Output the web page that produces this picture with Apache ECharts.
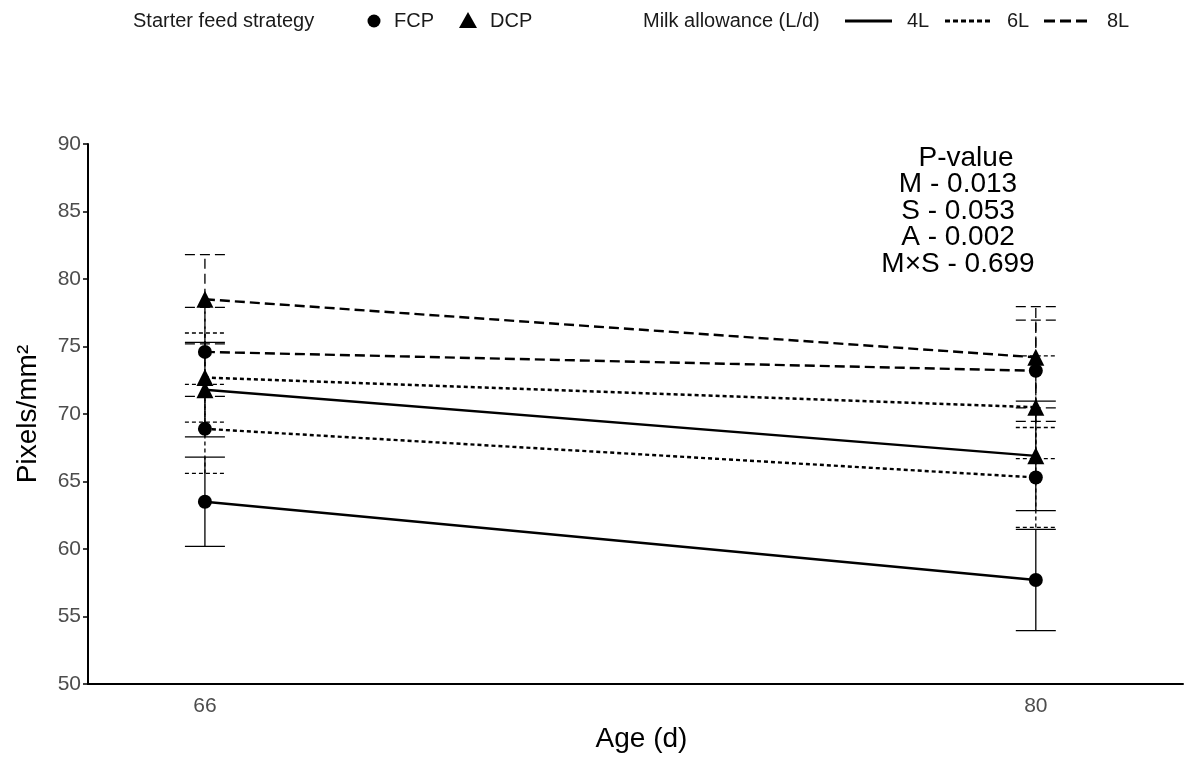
<!DOCTYPE html>
<html>
<head>
<meta charset="utf-8">
<script src="https://cdn.jsdelivr.net/npm/echarts@6/dist/echarts.min.js"></script>
<style>
html,body{margin:0;padding:0;background:#fff;}
#chart{width:1199px;height:760px;}
</style>
</head>
<body>
<div id="chart"></div>
<script>
// ---- data ----
const ages = [66, 80];
const fcp4 = [63.5, 57.7];
const fcp4Se = [3.3, 3.75];
const dcp4 = [71.8, 66.9];
const dcp4Se = [3.5, 4.05];
const fcp6 = [68.9, 65.3];
const fcp6Se = [3.3, 3.7];
const dcp6 = [72.7, 70.5];
const dcp6Se = [3.3, 3.8];
const fcp8 = [74.6, 73.2];
const fcp8Se = [3.3, 3.75];
const dcp8 = [78.5, 74.2];
const dcp8Se = [3.3, 3.75];
const yTicks = [50, 55, 60, 65, 70, 75, 80, 85, 90];
const pTitle = 'P-value';
const pLines = ['M - 0.013', 'S - 0.053', 'A - 0.002', 'M×S - 0.699'];

const FONT = '"Liberation Sans", Arial, sans-serif';
const dashes = { '4L': null, '6L': [4, 3], '8L': [10, 5] };

const groups = [
  { name: 'FCP 4L', strat: 'FCP', milk: '4L', mean: fcp4, se: fcp4Se },
  { name: 'DCP 4L', strat: 'DCP', milk: '4L', mean: dcp4, se: dcp4Se },
  { name: 'FCP 6L', strat: 'FCP', milk: '6L', mean: fcp6, se: fcp6Se },
  { name: 'DCP 6L', strat: 'DCP', milk: '6L', mean: dcp6, se: dcp6Se },
  { name: 'FCP 8L', strat: 'FCP', milk: '8L', mean: fcp8, se: fcp8Se },
  { name: 'DCP 8L', strat: 'DCP', milk: '8L', mean: dcp8, se: dcp8Se }
];

function errRender(dash) {
  return function (params, api) {
    const x = api.value(0), lo = api.value(1), hi = api.value(2);
    const a = api.coord([x, lo]), b = api.coord([x, hi]);
    const hw = 20;
    const style = { stroke: '#000', lineWidth: 1.3, lineDash: dash || null, fill: null };
    return {
      type: 'group',
      children: [
        { type: 'line', shape: { x1: a[0], y1: a[1], x2: b[0], y2: b[1] }, style: style },
        { type: 'line', shape: { x1: a[0] - hw, y1: a[1], x2: a[0] + hw, y2: a[1] }, style: style },
        { type: 'line', shape: { x1: b[0] - hw, y1: b[1], x2: b[0] + hw, y2: b[1] }, style: style }
      ]
    };
  };
}

const series = [];
groups.forEach(g => {
  series.push({
    type: 'custom',
    name: g.name + ' err',
    renderItem: errRender(dashes[g.milk]),
    data: ages.map((a, i) => [a, g.mean[i] - g.se[i], g.mean[i] + g.se[i]]),
    z: 1,
    silent: true
  });
});
groups.forEach(g => {
  series.push({
    type: 'line',
    name: g.name,
    data: ages.map((a, i) => [a, g.mean[i]]),
    symbol: g.strat === 'FCP' ? 'circle' : 'triangle',
    symbolSize: g.strat === 'FCP' ? 14 : 17,
    itemStyle: { color: '#000' },
    lineStyle: { color: '#000', width: 2.4, type: dashes[g.milk] || 'solid' },
    z: 3,
    animation: false
  });
});

// legend graphics
const LY = 21;
const legendFont = '20px ' + FONT;
const TC = '#1a1a1a';
function ltext(x, t) {
  return { type: 'text', x: x, y: LY, style: { text: t, font: legendFont, fill: TC, textVerticalAlign: 'middle', verticalAlign: 'middle' } };
}
const graphics = [
  ltext(133, 'Starter feed strategy'),
  { type: 'circle', shape: { cx: 374, cy: LY, r: 6.5 }, style: { fill: '#000' } },
  ltext(394, 'FCP'),
  { type: 'polygon', shape: { points: [[468, LY - 9], [477, LY + 7], [459, LY + 7]] }, style: { fill: '#000' } },
  ltext(490, 'DCP'),
  ltext(643, 'Milk allowance (L/d)'),
  { type: 'line', shape: { x1: 845, y1: LY, x2: 892, y2: LY }, style: { stroke: '#000', lineWidth: 3 } },
  ltext(907, '4L'),
  { type: 'line', shape: { x1: 945, y1: LY, x2: 992, y2: LY }, style: { stroke: '#000', lineWidth: 3, lineDash: [5, 3] } },
  ltext(1007, '6L'),
  { type: 'line', shape: { x1: 1044, y1: LY, x2: 1092, y2: LY }, style: { stroke: '#000', lineWidth: 3, lineDash: [11, 5] } },
  ltext(1107, '8L'),
  { type: 'text', x: 966, y: 158, style: { text: pTitle, font: '28px ' + FONT, textAlign: 'center', textVerticalAlign: 'middle', verticalAlign: 'middle', fill: '#000' } }
];
pLines.forEach((t, i) => {
  graphics.push({ type: 'text', x: 958, y: 184.5 + i * 26.5, style: { text: t, font: '28px ' + FONT, textAlign: 'center', textVerticalAlign: 'middle', verticalAlign: 'middle', fill: '#000' } });
});

const chart = echarts.init(document.getElementById('chart'), null, { renderer: 'canvas' });
chart.setOption({
  backgroundColor: '#fff',
  animation: false,
  grid: { left: 88, right: 16, top: 144, bottom: 76, containLabel: false },
  xAxis: {
    type: 'value',
    min: 64.03,
    max: 82.48,
    name: 'Age (d)',
    nameLocation: 'middle',
    nameGap: 41,
    nameTextStyle: { fontFamily: FONT, fontSize: 28, color: '#000', padding: [0, 0, 0, 12] },
    axisLine: { lineStyle: { color: '#000', width: 2 } },
    axisTick: { show: false },
    splitLine: { show: false },
    axisLabel: { customValues: ages, fontFamily: FONT, fontSize: 21, color: '#4d4d4d', margin: 12 }
  },
  yAxis: {
    type: 'value',
    min: yTicks[0],
    max: yTicks[yTicks.length - 1],
    interval: 5,
    name: 'Pixels/mm²',
    nameLocation: 'middle',
    nameGap: 46,
    nameRotate: 90,
    nameTextStyle: { fontFamily: FONT, fontSize: 28, color: '#000' },
    axisLine: { lineStyle: { color: '#000', width: 2 } },
    axisTick: { length: 5, lineStyle: { color: '#000', width: 1.5 } },
    splitLine: { show: false },
    axisLabel: { fontFamily: FONT, fontSize: 21, color: '#4d4d4d', margin: 7 }
  },
  graphic: graphics,
  series: series
});
</script>
</body>
</html>
